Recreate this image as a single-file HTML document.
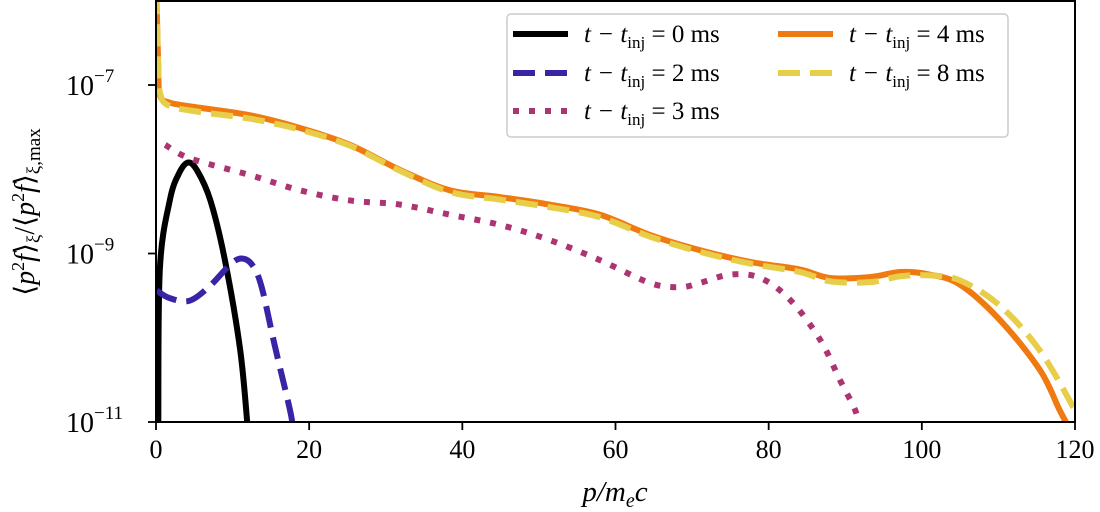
<!DOCTYPE html>
<html><head><meta charset="utf-8"><style>
body{margin:0;background:#fff;}
svg{display:block;font-family:"Liberation Serif",serif;}
</style></head><body>
<svg id="chart" width="1100" height="512" viewBox="0 0 1100 512" xmlns="http://www.w3.org/2000/svg">
<defs><clipPath id="clip"><rect x="156" y="1" width="919" height="421"/></clipPath></defs>
<g id="series" clip-path="url(#clip)"></g>
<rect x="156" y="1" width="919" height="421" fill="none" stroke="#000" stroke-width="2"/>
<g id="axes"></g>
<g>
<rect x="507" y="14" width="501" height="123" rx="4" fill="#fff" fill-opacity="0.85" stroke="#ccc" stroke-width="1.5"/>
<g id="legend-items" font-size="25" font-style="italic"></g>
</g>
<text x="615" y="501" font-size="29" text-anchor="middle" font-style="italic">p/m<tspan font-size="20" dy="6">e</tspan><tspan dy="-6">c</tspan></text>
<text transform="translate(34,212) rotate(-90)" font-size="28" text-anchor="middle">⟨<tspan font-style="italic">p</tspan><tspan font-size="18" dy="-10">2</tspan><tspan dy="10" font-style="italic">f</tspan>⟩<tspan font-size="19" dy="6">ξ</tspan><tspan dy="-6">/⟨</tspan><tspan font-style="italic">p</tspan><tspan font-size="18" dy="-10">2</tspan><tspan dy="10" font-style="italic">f</tspan>⟩<tspan font-size="19" dy="6">ξ,max</tspan></text>
</svg>
<script>
const xTicks=[0,20,40,60,80,100,120];
const yTickExps=[-7,-9,-11];
const p0=[0.3,0.5,1.8,3.0,4.2,5.4,7.1,9,11,12];
const v0=[-11,-9.19,-8.37,-8.05,-7.92,-8.02,-8.37,-9.08,-10.15,-11.1];
const p2=[0.1,1.8,4.4,7.1,9.7,11.2,12.6,13.8,15.5,17.5,17.9];
const v2=[-9.44,-9.53,-9.56,-9.38,-9.13,-9.06,-9.14,-9.40,-10.09,-10.86,-11.1];
const p3=[1.2,4.4,12.3,18.8,25.3,31.9,38.4,44.9,51.4,58,64.5,68.4,71,75,78.9,82.8,86.7,89.3,91.3,92];
const v3=[-7.71,-7.87,-8.07,-8.25,-8.37,-8.42,-8.54,-8.66,-8.84,-9.08,-9.35,-9.40,-9.35,-9.25,-9.29,-9.55,-10.02,-10.5,-10.86,-11.1];
const p4=[0.05,0.3,0.5,1.8,5.7,12.3,18.8,25.3,31.9,38.4,44.9,51.4,58,64.5,71,77.6,84.1,88,93.2,97.2,101,105,110.2,115.4,118,119.4];
const v4=[-5.9,-6.8,-7.12,-7.21,-7.27,-7.36,-7.51,-7.71,-8.01,-8.25,-8.33,-8.42,-8.54,-8.78,-8.96,-9.10,-9.19,-9.29,-9.28,-9.22,-9.25,-9.37,-9.79,-10.38,-10.86,-11.1];
const p8=[0.05,0.3,0.6,1.8,5.7,12.3,18.8,25.3,31.9,38.4,44.9,51.4,58,64.5,71,77.6,84.1,88,93.2,97.2,101,105,110.2,115.4,120];
const v8=[-5.9,-6.8,-7.12,-7.25,-7.32,-7.4,-7.53,-7.72,-8.02,-8.27,-8.36,-8.45,-8.57,-8.8,-8.98,-9.12,-9.22,-9.33,-9.34,-9.27,-9.26,-9.32,-9.62,-10.15,-10.86];
const X=p=>156+p*919/120;
const Y=e=>85+(-7-e)*84.25;
const NS="http://www.w3.org/2000/svg";
function mk(tag,attrs,parent){const el=document.createElementNS(NS,tag);for(const k in attrs)el.setAttribute(k,attrs[k]);parent.appendChild(el);return el;}
const series=[
 {p:p0,v:v0,c:"#000000",d:"",name:"series-0ms"},
 {p:p2,v:v2,c:"#3b23a8",d:"22 10",name:"series-2ms"},
 {p:p3,v:v3,c:"#ad3473",d:"6 10",name:"series-3ms"},
 {p:p4,v:v4,c:"#ef7a10",d:"",name:"series-4ms"},
 {p:p8,v:v8,c:"#e8cd48",d:"22 10",name:"series-8ms"}];
const sg=document.getElementById('series');
series.forEach(s=>{
 const pts=s.p.map((p,i)=>[X(p),Y(s.v[i])]);
 let d="M"+pts[0][0]+","+pts[0][1];
 for(let i=1;i<pts.length;i++){
  const p0=pts[Math.max(0,i-2)],p1=pts[i-1],p2=pts[i],p3=pts[Math.min(pts.length-1,i+1)];
  const c1=[p1[0]+(p2[0]-p0[0])/6,p1[1]+(p2[1]-p0[1])/6],c2=[p2[0]-(p3[0]-p1[0])/6,p2[1]-(p3[1]-p1[1])/6];
  d+=" C"+c1+" "+c2+" "+p2;
 }
 const el=mk('path',{d:d,fill:"none",stroke:s.c,"stroke-width":6,"stroke-dasharray":s.d||"none"},sg);
 
 
});
const ax=document.getElementById('axes');
xTicks.forEach(t=>{
 const x=X(t);
 const l=mk('line',{x1:x,x2:x,y1:422,y2:430,stroke:"#000","stroke-width":1.8},ax);
 
 
 const tx=mk('text',{x:x,y:458,"font-size":26,"text-anchor":"middle"},ax);
 tx.textContent=t;
 
 
});
yTickExps.forEach(e=>{
 const y=Y(e);
 const l=mk('line',{x1:148,x2:156,y1:y,y2:y,stroke:"#000","stroke-width":1.8},ax);
 
 
 const tx=mk('text',{x:66,y:y+10,"font-size":28},ax);
 tx.innerHTML='10<tspan font-size="19" dy="-13">−'+Math.abs(e)+'</tspan>';
 
 
});
const lg=document.getElementById('legend-items');
const labels=["0","2","3","4","8"];
const pos=[[513,34],[513,73],[513,111],[778,34],[778,73]];
series.forEach((s,i)=>{
 const [x,y]=pos[i];
 const l=mk('line',{x1:x,x2:x+55,y1:y,y2:y,stroke:s.c,"stroke-width":6,"stroke-dasharray":s.d||"none"},lg);
 
 
 const t=mk('text',{x:x+71,y:y+8},lg);
 t.innerHTML='t − t<tspan font-size="17" dy="6" font-style="normal">inj</tspan><tspan dy="-6" font-style="normal"> = '+labels[i]+' ms</tspan>';
 
 
});
</script>
</body></html>
